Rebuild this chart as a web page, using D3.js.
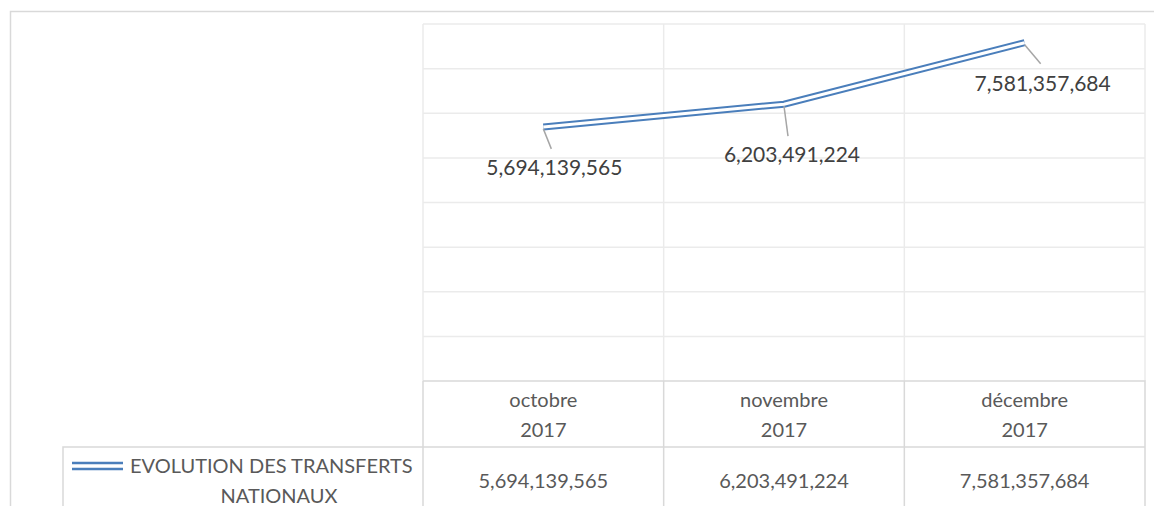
<!DOCTYPE html>
<html>
<head>
<meta charset="utf-8">
<script src="https://cdn.jsdelivr.net/npm/d3@7"></script>
<style>
  html, body { margin: 0; padding: 0; background: #fff; }
  svg { display: block; font-family: Lato, "Open Sans", sans-serif; }
</style>
</head>
<body>
<svg id="chart"></svg>
<script>
// ── data ──
const months = ['octobre', 'novembre', 'décembre'];
const years = ['2017', '2017', '2017'];
const values = [5694139565, 6203491224, 7581357684];
const seriesName = ['EVOLUTION DES TRANSFERTS', 'NATIONAUX'];
const yTicks = [0, 1e9, 2e9, 3e9, 4e9, 5e9, 6e9, 7e9, 8e9];

const W = 1154, H = 506;
const LINE_COLOR = '#4a7ebb';
const GRID = '#ebebeb';
const BORDER = '#d9d9d9';
const fmt = d3.format(',');

const svg = d3.select('#chart').attr('width', W).attr('height', H);

const x = d3.scaleBand().domain(months).range([423, 1145]).padding(0);
const y = d3.scaleLinear().domain([0, 8e9]).range([381, 24]);

// outer frame (cut off at right/bottom)
svg.append('path')
    .attr('d', `M10.5,${H} V11.5 H${W}`)
    .attr('fill', 'none')
    .attr('stroke', BORDER)
    .attr('stroke-width', 1.5);

// ── gridlines ──
const grid = svg.append('g').attr('stroke', GRID).attr('stroke-width', 1.5);
grid.selectAll('line.h')
    .data(yTicks.slice(1))
    .join('line')
    .attr('x1', x.range()[0]).attr('x2', x.range()[1])
    .attr('y1', d => y(d)).attr('y2', d => y(d));

const bounds = months.map(m => x(m)).concat([x.range()[1]]);
grid.selectAll('line.v')
    .data(bounds)
    .join('line')
    .attr('x1', d => d).attr('x2', d => d)
    .attr('y1', y(8e9)).attr('y2', y(0));

// ── series: double line ──
const pts = months.map((m, i) => ({ m, v: values[i], cx: x(m) + x.bandwidth() / 2, cy: y(values[i]) }));
const line = d3.line().x(d => d.cx).y(d => d.cy);

svg.append('path').datum(pts)
    .attr('d', line).attr('fill', 'none')
    .attr('stroke', LINE_COLOR).attr('stroke-width', 7);
svg.append('path').datum(pts)
    .attr('d', line).attr('fill', 'none')
    .attr('stroke', '#fff').attr('stroke-width', 3);

// data labels with leader lines
const labelOffsets = [
    { lx: 8, ly: 22, tx: 11, ty: 48 },
    { lx: 4, ly: 32, tx: 8, ty: 58 },
    { lx: 16, ly: 21, tx: 18, ty: 48 }
];

svg.append('g').selectAll('line')
    .data(pts)
    .join('line')
    .attr('x1', d => d.cx).attr('y1', d => d.cy + 2)
    .attr('x2', (d, i) => d.cx + labelOffsets[i].lx)
    .attr('y2', (d, i) => d.cy + labelOffsets[i].ly)
    .attr('stroke', '#a6a6a6').attr('stroke-width', 1.5);

svg.append('g').selectAll('text')
    .data(pts)
    .join('text')
    .attr('x', (d, i) => d.cx + labelOffsets[i].tx)
    .attr('y', (d, i) => d.cy + labelOffsets[i].ty)
    .attr('text-anchor', 'middle')
    .attr('font-size', 21)
    .attr('fill', '#404040')
    .text(d => fmt(d.v));

// ── data table ──
const tbl = svg.append('g');
const rowTop = 381, rowMid = 447, rowBot = 530;
const legendLeft = 63;

tbl.append('path')
    .attr('d', `M${x.range()[0]},${rowTop} H${x.range()[1]} V${rowBot}` +
               ` M${legendLeft},${rowBot} V${rowMid} H${x.range()[1]}`)
    .attr('fill', 'none').attr('stroke', BORDER).attr('stroke-width', 1.5);

tbl.selectAll('line.col')
    .data(bounds.slice(0, -1))
    .join('line')
    .attr('x1', d => d).attr('x2', d => d)
    .attr('y1', rowTop).attr('y2', rowBot)
    .attr('stroke', BORDER).attr('stroke-width', 1.5);

const head = tbl.selectAll('text.head')
    .data(months)
    .join('text')
    .attr('x', d => x(d) + x.bandwidth() / 2)
    .attr('text-anchor', 'middle')
    .attr('font-size', 20)
    .attr('fill', '#595959');
head.append('tspan').attr('y', 407).text(d => d);
head.append('tspan')
    .attr('x', d => x(d) + x.bandwidth() / 2)
    .attr('y', 437).text((d, i) => years[i]);

tbl.selectAll('text.val')
    .data(pts)
    .join('text')
    .attr('x', d => d.cx)
    .attr('y', 488)
    .attr('text-anchor', 'middle')
    .attr('font-size', 20)
    .attr('fill', '#595959')
    .text(d => fmt(d.v));

// legend key
const key = tbl.append('g');
[463, 469].forEach(ky => {
    key.append('line')
        .attr('x1', 72).attr('x2', 123)
        .attr('y1', ky).attr('y2', ky)
        .attr('stroke', LINE_COLOR).attr('stroke-width', 2.5);
});
tbl.append('text')
    .attr('x', 130).attr('y', 473)
    .attr('font-size', 20).attr('fill', '#595959')
    .text(seriesName[0]);
tbl.append('text')
    .attr('x', 279).attr('y', 503)
    .attr('text-anchor', 'middle')
    .attr('font-size', 20).attr('fill', '#595959')
    .text(seriesName[1]);
</script>
</body>
</html>
